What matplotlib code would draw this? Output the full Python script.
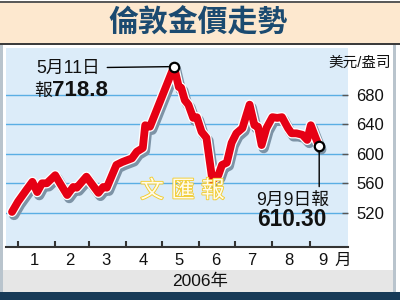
import numpy as np
import matplotlib
matplotlib.use('Agg')
import matplotlib.pyplot as plt
import matplotlib.patheffects as pe
from matplotlib.patches import Rectangle

plt.rcParams['font.family'] = ['Liberation Sans', 'Noto Sans CJK TC']

# ---------------- data ----------------
dates = ['2005-12-27', '2006-01-01', '2006-01-08', '2006-01-13', '2006-01-17',
         '2006-01-21', '2006-01-25', '2006-02-01', '2006-02-05', '2006-02-11',
         '2006-02-16', '2006-02-19', '2006-02-27', '2006-03-09', '2006-03-13',
         '2006-03-16', '2006-03-24', '2006-03-29', '2006-04-06', '2006-04-10',
         '2006-04-15', '2006-04-17', '2006-04-21', '2006-05-11', '2006-05-15',
         '2006-05-17', '2006-05-20', '2006-05-23', '2006-05-27', '2006-05-30',
         '2006-06-03', '2006-06-07', '2006-06-12', '2006-06-17', '2006-06-20',
         '2006-06-24', '2006-06-28', '2006-07-02', '2006-07-07', '2006-07-13',
         '2006-07-17', '2006-07-20', '2006-07-23', '2006-07-27', '2006-08-01',
         '2006-08-05', '2006-08-09', '2006-08-14', '2006-08-17', '2006-08-21',
         '2006-08-26', '2006-08-30', '2006-09-02', '2006-09-06', '2006-09-09']
prices = [521, 535, 551, 562, 548, 560, 560, 571, 560, 544,
          555, 554, 569, 547, 555, 554, 585, 589, 594, 603,
          608, 639, 637, 718.8, 691, 690, 673, 667, 649, 650,
          630, 622, 564, 571, 585, 588, 615, 628, 635, 667,
          639, 637, 612, 635, 650, 649, 650, 635, 628, 628,
          626, 619, 639, 622, 610.30]

y_ticks = [520, 560, 600, 640, 680]
month_starts = ['2006-01-01', '2006-02-01', '2006-03-01', '2006-04-01', '2006-05-01',
                '2006-06-01', '2006-07-01', '2006-08-01', '2006-09-01']
month_mids = ['2006-01-15', '2006-02-13', '2006-03-15', '2006-04-15', '2006-05-15',
              '2006-06-15', '2006-07-15', '2006-08-15', '2006-09-12']
month_labels = ['1', '2', '3', '4', '5', '6', '7', '8', '9']

title = '倫敦金價走勢'
unit_label = '美元/盎司'
year_label = '2006年'
month_suffix = '月'
peak_date, peak_value = '2006-05-11', 718.8
peak_text, peak_prefix, peak_number = '5月11日', '報', '718.8'
last_date, last_value = '2006-09-09', 610.30
last_text, last_number = '9月9日報', '610.30'
watermark = ['文', '匯', '報']

# ---------------- figure ----------------
W, H = 400, 300
fig = plt.figure(figsize=(4, 3), dpi=100)
fig.patch.set_facecolor('white')


def box(x0, y0, x1, y1, color):
    fig.add_artist(Rectangle((x0 / W, 1 - y1 / H), (x1 - x0) / W, (y1 - y0) / H,
                             transform=fig.transFigure, facecolor=color,
                             edgecolor='none', zorder=-5))


box(0, 1, 400, 3, '#5a5a5a')
box(0, 3, 400, 43, '#fde8cf')
box(0, 43, 400, 45, '#3c3c3c')
box(0, 45, 2.5, 292, '#b9c4cd')
box(393, 45, 396, 292, '#b9c4cd')
box(2.5, 270, 393, 292, '#e6e6e6')
box(0, 292, 400, 300, '#173a57')

fig.text(198 / W, 1 - 23 / H, title, ha='center', va='center', fontsize=21.5,
         weight='bold', color='#1b4a70', family=['Noto Sans CJK TC'])

ax = fig.add_axes([6 / W, 1 - 247 / H, (348 - 6) / W, (247 - 48) / H])
ax.set_facecolor('#dcecf9')

x = np.array(dates, dtype='datetime64[D]')
ax.plot(x, prices, color='#e60014', lw=5.6, solid_capstyle='round',
        solid_joinstyle='round', zorder=3,
        path_effects=[pe.SimpleLineShadow(offset=(1.5, -2.2), shadow_color='#7d93a6',
                                          alpha=1, linewidth=7.4),
                      pe.Stroke(linewidth=7.4, foreground='white'),
                      pe.Normal()])

ax.set_xlim(np.datetime64('2005-12-22'), np.datetime64('2006-10-03'))
ax.set_ylim(473.3, 744.1)

# y axis on right
ax.yaxis.tick_right()
ax.set_yticks(y_ticks)
ax.set_yticklabels([str(v) for v in y_ticks])
ax.tick_params(axis='y', direction='in', length=4, width=1, color='#555555',
               labelsize=12, pad=6, labelcolor='#111111')
ax.yaxis.grid(True, color='#5aaee4', lw=1)
ax.set_axisbelow(True)

# x axis
ax.set_xticks(np.array(month_starts, dtype='datetime64[D]'))
ax.set_xticklabels([])
ax.set_xticks(np.array(month_mids, dtype='datetime64[D]'), minor=True)
ax.set_xticklabels(month_labels, minor=True)
ax.tick_params(axis='x', which='major', direction='in', length=4, width=1.5,
               color='#333333')
ax.tick_params(axis='x', which='minor', length=0, labelsize=12, pad=4,
               labelcolor='#111111')

for s in ['top', 'left', 'right']:
    ax.spines[s].set_visible(False)
ax.spines['bottom'].set_color('#333333')
ax.spines['bottom'].set_linewidth(1.5)

# markers
pd_ = np.datetime64(peak_date)
ld_ = np.datetime64(last_date)
ax.plot([pd_, ld_], [peak_value, last_value], 'o', ms=6.8, mfc='white',
        mec='black', mew=1.6, zorder=6)

# peak annotation
ax.annotate(peak_text, xy=(pd_, peak_value), xytext=(-76, -1),
            textcoords='offset points', ha='center', va='center', fontsize=12.8,
            color='#111111',
            arrowprops=dict(arrowstyle='-', color='black', lw=1, shrinkA=3, shrinkB=4))
fig.text(43 / W, 1 - 91 / H, peak_prefix, ha='center', va='center', fontsize=12.8,
         color='#111111')
fig.text(52 / W, 1 - 91 / H, peak_number, ha='left', va='center', fontsize=16,
         weight='bold', color='#111111')

# last annotation
ax.annotate('', xy=(ld_, last_value), xytext=(0, -29), textcoords='offset points',
            arrowprops=dict(arrowstyle='-', color='black', lw=1, shrinkA=0, shrinkB=3.5))
fig.text(293 / W, 1 - 201 / H, last_text, ha='center', va='center', fontsize=12.8,
         color='#111111')
fig.text(292 / W, 1 - 220 / H, last_number, ha='center', va='center', fontsize=16.3,
         weight='bold', color='#111111')

# watermark
for ch, xp in zip(watermark, [152, 183, 213]):
    ax.text((xp - 6) / 342, (247 - 191) / 199, ch, transform=ax.transAxes,
            ha='center', va='center', fontsize=17, color='#fffbea',
            family=['Noto Sans CJK TC'], zorder=7,
            path_effects=[pe.withStroke(linewidth=1.3, foreground='#f2cc30')])

# unit, month suffix, year
fig.text(360 / W, 1 - 63 / H, unit_label, ha='center', va='center', fontsize=10.5,
         color='#111111')
fig.text(343 / W, 1 - 260 / H, month_suffix, ha='center', va='center', fontsize=12,
         color='#111111')
fig.text(200 / W, 1 - 281 / H, year_label, ha='center', va='center', fontsize=12.5,
         color='#111111')

fig.savefig('out.png', dpi=100)
